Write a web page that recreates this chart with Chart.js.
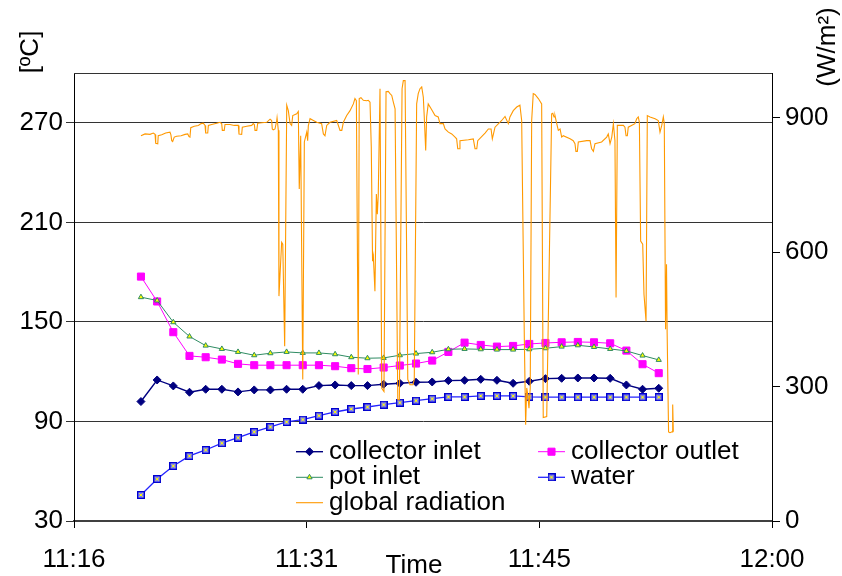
<!DOCTYPE html>
<html>
<head>
<meta charset="utf-8">
<script src="https://cdn.jsdelivr.net/npm/chart.js@4.4.0/dist/chart.umd.min.js"></script>
<style>
  html, body { margin: 0; padding: 0; background: #fff; }
  canvas { display: block; }
</style>
</head>
<body>
<canvas id="chart" width="842" height="576"></canvas>
<script>
// times are minutes after 11:00
const tempMinutes = [20.22, 21.24, 22.26, 23.28, 24.30, 25.32, 26.34, 27.36, 28.38, 29.40,
    30.42, 31.44, 32.46, 33.48, 34.50, 35.52, 36.54, 37.56, 38.58, 39.60,
    40.62, 41.64, 42.66, 43.68, 44.70, 45.72, 46.74, 47.76, 48.78, 49.80,
    50.82, 51.84, 52.86];

const collectorInlet = [102, 115, 111.4, 107.6, 109.4, 109.4, 107.8, 109, 109, 109.4,
    109.4, 111.6, 112, 111.6, 111.6, 112.4, 113, 113.6, 113.8, 114.6,
    114.8, 115.4, 114.8, 113, 114.2, 115.8, 116, 116.2, 116.2, 116,
    112, 109.4, 110];

const collectorOutlet = [177.3, 162.3, 143.8, 129.5, 128.7, 127.3, 124.7, 123.9, 123.9, 123.9,
    123.9, 123.9, 123.3, 122.1, 121.6, 122.5, 123.7, 124.9, 126.7, 131.9,
    137.5, 136.1, 135.1, 135.5, 136.7, 137.3, 137.7, 137.9, 137.7, 137.1,
    132.7, 124.5, 119.1];

const potInlet = [164.9, 162.9, 149.8, 141.2, 135.7, 133.7, 131.9, 129.9, 131.1, 131.9,
    131.3, 131.3, 130.5, 128.7, 128.1, 128.3, 129.9, 130.9, 131.7, 133.5,
    133.7, 133.5, 133.3, 133.3, 133.5, 134.1, 135.1, 135.9, 134.9, 133.7,
    132.5, 129.7, 127.1];

const water = [45.7, 55.3, 63.2, 69.2, 72.8, 76.9, 80.2, 83.7, 86.7, 89.7,
    91.1, 93.5, 95.7, 97.5, 98.7, 100.1, 101.3, 102.5, 103.7, 104.8,
    104.8, 105.4, 105.4, 105.4, 104.8, 104.6, 104.6, 104.6, 104.6, 104.6,
    104.6, 104.6, 104.6];

const radMinutes = [20.22, 20.48, 20.79, 21.00, 21.11, 21.15, 21.28, 21.31, 21.53, 21.78,
    22.05, 22.11, 22.16, 22.22, 22.32, 22.47, 22.75, 23.00, 23.17, 23.25,
    23.31, 23.36, 23.58, 23.84, 24.01, 24.15, 24.26, 24.30, 24.43, 24.47,
    24.68, 25.00, 25.20, 25.31, 25.35, 25.47, 25.52, 25.83, 26.10, 26.36,
    26.40, 26.57, 26.61, 26.89, 27.20, 27.30, 27.37, 27.41, 27.52, 27.58,
    27.83, 28.15, 28.36, 28.46, 28.50, 28.56, 28.67, 28.78, 28.80, 28.88,
    28.92, 29.09, 29.16, 29.28, 29.41, 29.51, 29.62, 29.72, 29.79, 30.04,
    30.14, 30.20, 30.29, 30.42, 30.52, 30.67, 30.73, 30.77, 30.88, 31.09,
    31.30, 31.61, 31.72, 31.82, 31.93, 32.14, 32.56, 32.77, 32.88, 32.98,
    33.19, 33.40, 33.61, 33.71, 33.80, 33.92, 33.98, 34.09, 34.24, 34.45,
    34.55, 34.66, 34.74, 34.82, 34.87, 34.97, 35.06, 35.12, 35.18, 35.29,
    35.40, 35.54, 35.67, 35.81, 35.92, 36.03, 36.13, 36.24, 36.41, 36.51,
    36.68, 36.76, 36.87, 37.04, 37.18, 37.37, 37.45, 37.60, 37.70, 37.81,
    37.92, 38.02, 38.08, 38.17, 38.23, 38.33, 38.55, 38.76, 38.96, 39.07,
    39.28, 39.39, 39.60, 39.81, 40.02, 40.12, 40.19, 40.27, 40.33, 40.86,
    41.17, 41.28, 41.39, 41.45, 41.91, 42.12, 42.29, 42.37, 42.54, 42.96,
    43.17, 43.38, 43.48, 43.69, 43.91, 44.11, 44.22, 44.39, 44.47, 44.54,
    44.60, 44.68, 44.76, 44.85, 44.95, 45.06, 45.27, 45.48, 45.58, 45.80,
    46.11, 46.18, 46.26, 46.32, 46.43, 46.53, 46.64, 46.74, 46.84, 47.27,
    47.47, 47.58, 47.64, 47.73, 47.79, 48.32, 48.53, 48.63, 48.74, 48.84,
    49.26, 49.58, 49.68, 49.79, 49.90, 50.00, 50.10, 50.17, 50.25, 50.63,
    50.73, 50.80, 50.88, 50.94, 51.36, 51.47, 51.57, 51.64, 51.72, 51.85,
    51.93, 52.06, 52.14, 52.31, 52.63, 52.83, 52.94, 53.05, 53.15, 53.21,
    53.29, 53.35, 53.39, 53.48, 53.57, 53.70, 53.74, 53.78];

const radiation = [860, 864, 863, 866, 863, 843, 842, 860, 862, 866,
    868, 862, 849, 847, 857, 859, 860, 863, 864, 858,
    857, 878, 881, 883, 887, 888, 883, 866, 866, 883,
    885, 888, 890, 887, 872, 872, 885, 885, 883, 883,
    864, 863, 879, 881, 883, 887, 885, 872, 872, 888,
    889, 890, 897, 894, 875, 873, 875, 894, 900, 872,
    502, 622, 618, 390, 928, 916, 887, 883, 905, 909,
    914, 741, 860, 316, 846, 868, 849, 882, 898, 894,
    890, 887, 864, 860, 883, 890, 894, 872, 872, 890,
    905, 916, 931, 943, 938, 327, 943, 945, 939, 938,
    939, 935, 835, 580, 591, 513, 730, 685, 728, 965,
    296, 289, 958, 959, 954, 950, 935, 920, 271, 271,
    965, 983, 983, 316, 304, 304, 316, 931, 954, 965,
    969, 946, 902, 827, 902, 931, 918, 905, 902, 887,
    887, 875, 868, 864, 857, 853, 831, 831, 849, 851,
    853, 831, 831, 849, 866, 875, 875, 853, 879, 894,
    903, 887, 902, 916, 924, 928, 894, 401, 215, 297,
    282, 252, 297, 894, 954, 952, 943, 931, 231, 233,
    909, 910, 902, 905, 887, 872, 875, 857, 860, 853,
    849, 842, 825, 825, 846, 849, 849, 831, 825, 842,
    846, 857, 864, 842, 857, 887, 849, 499, 883, 883,
    879, 860, 860, 879, 887, 898, 902, 890, 625, 618,
    506, 446, 905, 902, 898, 894, 868, 883, 902, 887,
    428, 573, 421, 199, 197, 199, 260, 199];

const timeTicks = [16, 30 + 2 / 3, 45 + 1 / 3, 60];
const timeLabels = ["11:16", "11:31", "11:45", "12:00"];
const tempTicks = [30, 90, 150, 210, 270];
const radTicks = [0, 300, 600, 900];

const FONT = "'Liberation Sans', Arial, sans-serif";
Chart.defaults.font.family = FONT;
Chart.defaults.font.size = 26;
Chart.defaults.color = "#000";

const toPoints = (xs, ys) => xs.map((x, i) => ({ x: x, y: ys[i] }));

// small blue square with a yellow cross, like the excel marker
function waterMarker() {
    let c = document.createElement("canvas");
    c.width = 8; c.height = 8;
    let g = c.getContext("2d");
    g.fillStyle = "#7c7cff";
    g.fillRect(0, 0, 8, 8);
    g.strokeStyle = "#0000cc";
    g.lineWidth = 1.3;
    g.strokeRect(0.65, 0.65, 6.7, 6.7);
    g.strokeStyle = "#ffff00";
    g.lineWidth = 1;
    g.beginPath();
    g.moveTo(2.3, 2.3); g.lineTo(5.7, 5.7);
    g.moveTo(5.7, 2.3); g.lineTo(2.3, 5.7);
    g.stroke();
    return c;
}

// legend slots: [x of line start, y]
const legendPos = [[296, 451.7], [538, 451.7], [296, 477.3], [538, 477.3], [296, 502.7]];

const extras = {
    id: "extras",
    afterDraw(chart) {
        let ctx = chart.ctx;
        let a = chart.chartArea;
        ctx.save();
        // plot area top edge
        ctx.strokeStyle = "#333";
        ctx.lineWidth = 1;
        ctx.beginPath();
        ctx.moveTo(a.left, Math.round(a.top) + 0.5);
        ctx.lineTo(a.right, Math.round(a.top) + 0.5);
        ctx.stroke();

        // axis titles
        ctx.fillStyle = "#000";
        ctx.font = "26px " + FONT;
        ctx.textAlign = "center";
        ctx.textBaseline = "middle";
        ctx.fillText("Time", 414, 566);
        ctx.save();
        ctx.translate(31, 52);
        ctx.rotate(-Math.PI / 2);
        ctx.fillText("[ºC]", 0, 0);
        ctx.restore();
        ctx.save();
        ctx.translate(828, 47);
        ctx.rotate(-Math.PI / 2);
        ctx.fillText("(W/m²)", 0, 0);
        ctx.restore();

        // legend inside the plot
        ctx.textAlign = "left";
        chart.data.datasets.forEach((ds, i) => {
            let [x, y] = legendPos[i];
            ctx.strokeStyle = ds.borderColor;
            ctx.lineWidth = ds.borderWidth;
            ctx.beginPath();
            ctx.moveTo(x, y);
            ctx.lineTo(x + 27, y);
            ctx.stroke();
            if (ds.pointRadius > 0) {
                ctx.fillStyle = ds.pointBackgroundColor;
                ctx.strokeStyle = ds.pointBorderColor;
                ctx.lineWidth = ds.pointBorderWidth;
                Chart.helpers.drawPoint(ctx, {
                    pointStyle: ds.pointStyle,
                    radius: ds.pointRadius,
                    rotation: 0,
                    borderWidth: ds.pointBorderWidth
                }, x + 13.5, y);
            }
            ctx.fillStyle = "#000";
            ctx.fillText(ds.label, x + 33, y);
        });
        ctx.restore();
    }
};

let ctx = document.getElementById("chart").getContext("2d");
let chart = new Chart(ctx, {
    type: "line",
    data: {
        datasets: [{
            label: "collector inlet",
            data: toPoints(tempMinutes, collectorInlet),
            yAxisID: "y",
            borderColor: "#000080",
            borderWidth: 1.4,
            pointStyle: "rectRot",
            pointRadius: 4,
            pointBorderWidth: 1,
            pointBackgroundColor: "#000080",
            pointBorderColor: "#000080",
            order: 4
        }, {
            label: "collector outlet",
            data: toPoints(tempMinutes, collectorOutlet),
            yAxisID: "y",
            borderColor: "#ff00ff",
            borderWidth: 1,
            pointStyle: "rect",
            pointRadius: 5,
            pointBorderWidth: 1,
            pointBackgroundColor: "#ff00ff",
            pointBorderColor: "#ff00ff",
            order: 3
        }, {
            label: "pot inlet",
            data: toPoints(tempMinutes, potInlet),
            yAxisID: "y",
            borderColor: "#2e8b62",
            borderWidth: 1,
            pointStyle: "triangle",
            pointRadius: 3,
            pointBorderWidth: 1,
            pointBackgroundColor: "#ffff00",
            pointBorderColor: "#2e8b62",
            order: 2
        }, {
            label: "water",
            data: toPoints(tempMinutes, water),
            yAxisID: "y",
            borderColor: "#2323ff",
            borderWidth: 1.3,
            pointStyle: waterMarker(),
            pointRadius: 4,
            pointBorderWidth: 0,
            pointBackgroundColor: "#7c7cff",
            pointBorderColor: "#0000cc",
            order: 1
        }, {
            label: "global radiation",
            data: toPoints(radMinutes, radiation),
            yAxisID: "y1",
            borderColor: "#ff9900",
            borderWidth: 1.1,
            pointRadius: 0,
            order: 0
        }]
    },
    options: {
        responsive: false,
        animation: false,
        layout: { padding: { top: 73, left: 0, right: 0, bottom: 0 } },
        plugins: { legend: { display: false }, tooltip: { enabled: false } },
        elements: { line: { tension: 0 } },
        scales: {
            x: {
                type: "linear",
                min: 16,
                max: 60,
                afterBuildTicks: s => { s.ticks = timeTicks.map(v => ({ value: v })); },
                afterFit: s => { s.height = 55; },
                ticks: {
                    callback: (v, i) => timeLabels[i],
                    maxRotation: 0,
                    padding: 16
                },
                grid: { drawOnChartArea: false, tickLength: 7, color: "#000" },
                border: { color: "#404040", width: 2 }
            },
            y: {
                position: "left",
                min: 30,
                max: 300,
                afterBuildTicks: s => { s.ticks = tempTicks.map(v => ({ value: v })); },
                afterFit: s => { s.width = 74; },
                ticks: { padding: 3 },
                grid: { color: "#333", tickLength: 8 },
                border: { color: "#000", width: 1 }
            },
            y1: {
                position: "right",
                min: 0,
                max: 1000,
                afterBuildTicks: s => { s.ticks = radTicks.map(v => ({ value: v })); },
                afterFit: s => { s.width = 70; },
                ticks: { padding: 5 },
                grid: { drawOnChartArea: false, color: "#000", tickLength: 8 },
                border: { color: "#000", width: 1 }
            }
        }
    },
    plugins: [extras]
});
</script>
</body>
</html>
